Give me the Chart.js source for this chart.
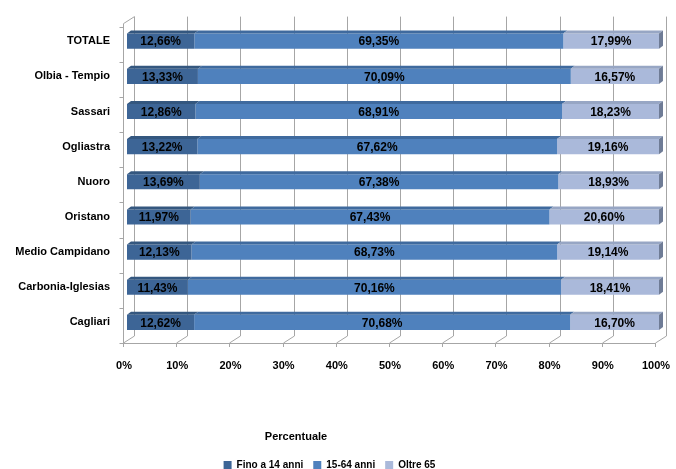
<!DOCTYPE html>
<html>
<head>
<meta charset="utf-8">
<script src="https://cdn.jsdelivr.net/npm/chart.js@4.4.0/dist/chart.umd.min.js"></script>
<style>
  html, body { margin: 0; padding: 0; background: #fff; }
  #wrap { width: 676px; height: 469px; position: relative; }
</style>
</head>
<body>
<div id="wrap"><canvas id="chart"></canvas></div>
<script>
// dati (percentuali per fascia d'eta)
const categories = ['TOTALE', 'Olbia - Tempio', 'Sassari', 'Ogliastra', 'Nuoro', 'Oristano', 'Medio Campidano', 'Carbonia-Iglesias', 'Cagliari'];
const seriesNames = ['Fino a 14 anni', '15-64 anni', 'Oltre 65'];
const fino14 = [12.66, 13.33, 12.86, 13.22, 13.69, 11.97, 12.13, 11.43, 12.62];
const anni1564 = [69.35, 70.09, 68.91, 67.62, 67.38, 67.43, 68.73, 70.16, 70.68];
const oltre65 = [17.99, 16.57, 18.23, 19.16, 18.93, 20.60, 19.14, 18.41, 16.70];
const xTickValues = [0, 10, 20, 30, 40, 50, 60, 70, 80, 90, 100];
const axisTitle = 'Percentuale';

const font = 'Liberation Sans';
const frontCol = ['#3d6596', '#4f81bd', '#aab9da'];
const topCol = ['#34577f', '#3f6a9e', '#97a6c4'];
const capCol = '#6f7c96';
const gridCol = '#a6a6a6';

// finto 3D: pareti, griglia e facce superiori delle barre
const pseudo3d = {
    id: 'pseudo3d',
    beforeDatasetsDraw(chart) {
        const ctx = chart.ctx;
        const a = chart.chartArea;
        const xs = chart.scales.x;
        ctx.save();
        ctx.strokeStyle = gridCol;
        ctx.lineWidth = 1;
        ctx.beginPath();
        xTickValues.forEach(v => {
            const px = Math.round(xs.getPixelForValue(v)) + 0.5;
            // linea sulla parete di fondo
            ctx.moveTo(px + 7, a.top - 7);
            ctx.lineTo(px + 7, a.bottom - 4);
            // diagonale del pavimento
            ctx.moveTo(px - 4, a.bottom + 3);
            ctx.lineTo(px + 7, a.bottom - 4);
            // tacca
            ctx.moveTo(px - 4, a.bottom + 3);
            ctx.lineTo(px - 4, a.bottom + 7);
        });
        // asse frontale orizzontale
        ctx.moveTo(xs.getPixelForValue(0) - 4, Math.round(a.bottom + 3) + 0.5);
        ctx.lineTo(xs.getPixelForValue(100) - 4, Math.round(a.bottom + 3) + 0.5);
        // parete sinistra
        const lx = Math.round(a.left) - 4 + 0.5;
        ctx.moveTo(lx, a.top);
        ctx.lineTo(lx, a.bottom + 3);
        ctx.moveTo(lx, a.top);
        ctx.lineTo(lx + 11, a.top - 7);
        const band = (a.bottom - a.top) / categories.length;
        for (let i = 0; i <= categories.length; i++) {
            const y = Math.round(a.top + band * i + 3) + 0.5;
            ctx.moveTo(lx - 4, y);
            ctx.lineTo(lx, y);
        }
        ctx.stroke();
        ctx.restore();
    },
    afterDatasetsDraw(chart) {
        const ctx = chart.ctx;
        const dx = 4, dy = 3;
        ctx.save();
        chart.data.datasets.forEach((ds, di) => {
            const meta = chart.getDatasetMeta(di);
            meta.data.forEach(el => {
                const p = el.getProps(['x', 'y', 'base', 'height'], true);
                const top = p.y - p.height / 2;
                const bot = p.y + p.height / 2;
                ctx.fillStyle = topCol[di];
                ctx.beginPath();
                ctx.moveTo(p.base, top);
                ctx.lineTo(p.x, top);
                ctx.lineTo(p.x + dx, top - dy);
                ctx.lineTo(p.base + dx, top - dy);
                ctx.closePath();
                ctx.fill();
                if (di === chart.data.datasets.length - 1) {
                    ctx.fillStyle = capCol;
                    ctx.beginPath();
                    ctx.moveTo(p.x, top);
                    ctx.lineTo(p.x + dx, top - dy);
                    ctx.lineTo(p.x + dx, bot - dy);
                    ctx.lineTo(p.x, bot);
                    ctx.closePath();
                    ctx.fill();
                }
            });
        });
        // etichette dei valori
        ctx.fillStyle = '#000';
        ctx.font = 'bold 12px "' + font + '"';
        ctx.textAlign = 'center';
        ctx.textBaseline = 'middle';
        chart.data.datasets.forEach((ds, di) => {
            const meta = chart.getDatasetMeta(di);
            meta.data.forEach((el, i) => {
                const p = el.getProps(['x', 'y', 'base'], true);
                const txt = ds.data[i].toFixed(2).replace('.', ',') + '%';
                ctx.fillText(txt, (p.x + p.base) / 2, p.y + 1);
            });
        });
        ctx.restore();
    },
    afterDraw(chart) {
        const ctx = chart.ctx;
        ctx.save();
        ctx.fillStyle = '#000';
        ctx.font = 'bold 11px "' + font + '"';
        ctx.textAlign = 'center';
        ctx.textBaseline = 'middle';
        ctx.fillText(axisTitle, 296, 437);
        ctx.restore();
    }
};

const ctx = document.getElementById('chart').getContext('2d');
const chart = new Chart(ctx, {
    type: 'bar',
    data: {
        labels: categories,
        datasets: [
            { label: seriesNames[0], data: fino14, backgroundColor: frontCol[0] },
            { label: seriesNames[1], data: anni1564, backgroundColor: frontCol[1] },
            { label: seriesNames[2], data: oltre65, backgroundColor: frontCol[2] }
        ]
    },
    options: {
        indexAxis: 'y',
        responsive: true,
        maintainAspectRatio: false,
        animation: false,
        categoryPercentage: 1,
        barPercentage: 0.43,
        layout: { padding: { top: 22, right: 17, left: 0, bottom: -11 } },
        scales: {
            x: {
                stacked: true,
                min: 0,
                max: 100,
                grid: { display: false, drawTicks: false },
                border: { display: false },
                afterFit: s => { s.height = 110; s.paddingLeft = 0; s.paddingRight = 0; },
                afterBuildTicks: s => { s.ticks = xTickValues.map(v => ({ value: v })); },
                ticks: {
                    padding: 19,
                    labelOffset: -3,
                    color: '#000',
                    font: { family: font, size: 11, weight: 'bold' },
                    callback: v => v + '%'
                }
            },
            y: {
                stacked: true,
                grid: { display: false, drawTicks: false },
                border: { display: false },
                afterFit: s => { s.width = 127; },
                ticks: {
                    padding: 17,
                    color: '#000',
                    font: { family: font, size: 11, weight: 'bold' }
                }
            }
        },
        plugins: {
            legend: {
                position: 'bottom',
                labels: {
                    boxWidth: 8,
                    boxHeight: 8,
                    padding: 10,
                    color: '#000',
                    font: { family: font, size: 10, weight: 'bold' }
                }
            },
            tooltip: { enabled: false }
        }
    },
    plugins: [pseudo3d]
});
</script>
</body>
</html>
